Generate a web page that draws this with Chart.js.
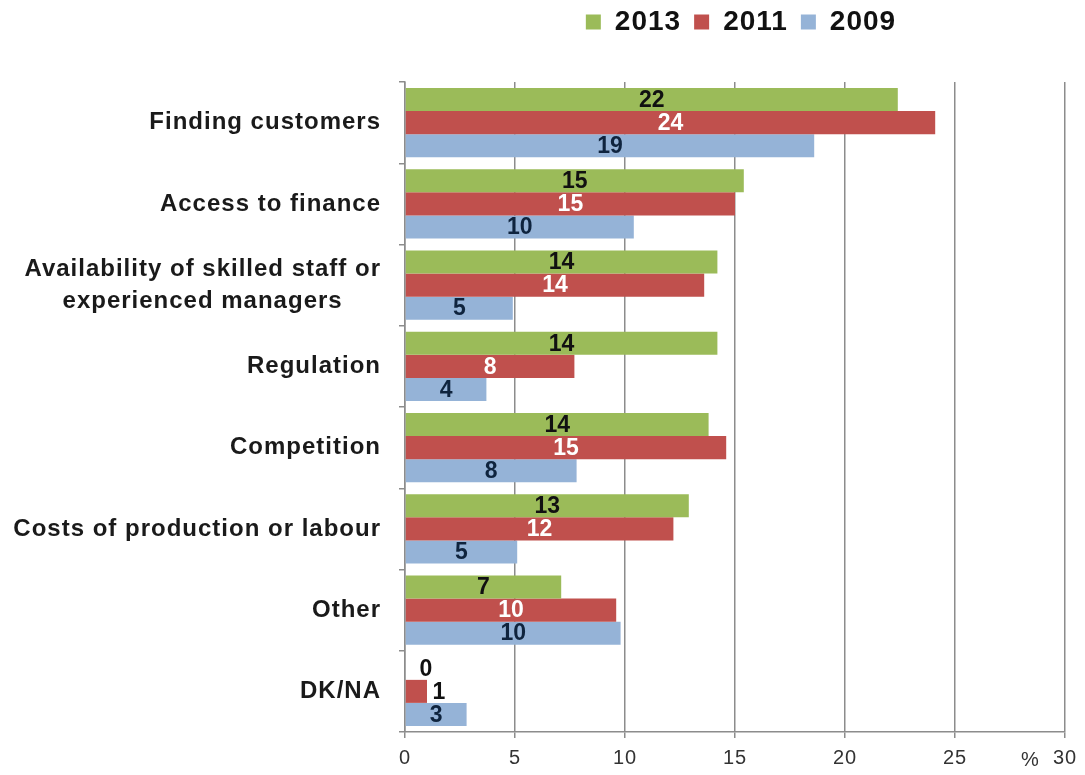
<!DOCTYPE html>
<html>
<head>
<meta charset="utf-8">
<title>Main problems facing businesses</title>
<script src="https://cdn.jsdelivr.net/npm/chart.js@4.4.1/dist/chart.umd.min.js"></script>
<style>
  html, body { margin: 0; padding: 0; background: #ffffff; }
  #wrap { width: 1085px; height: 775px; position: relative; }
</style>
</head>
<body>
<div id="wrap"><canvas id="problemsChart" width="1085" height="775"></canvas></div>
<script>
// DATA
const categories = [
  "Finding customers",
  "Access to finance",
  ["Availability of skilled staff or", "experienced managers     "],
  "Regulation",
  "Competition",
  "Costs of production or labour",
  "Other",
  "DK/NA"
];
const seriesNames = ["2013", "2011", "2009"];
const values2013 = [22.4, 15.4, 14.2, 14.2, 13.8, 12.9, 7.1, 0.0];
const values2011 = [24.1, 15.0, 13.6, 7.7, 14.6, 12.2, 9.6, 1.0];
const values2009 = [18.6, 10.4, 4.9, 3.7, 7.8, 5.1, 9.8, 2.8];
const xTicks = [0, 5, 10, 15, 20, 25, 30];

// Colours
const barColors = ["#9bbb59", "#c0504d", "#95b3d7"];
const labelColors = ["#111111", "#ffffff", "#0f243e"];
const FONT = "'Liberation Sans', Arial, sans-serif";

// height reserved above the plot for the legend row
const LEGEND_BAND = 87;

// ================================
// Legend band height
// ================================
const legendBand = {
  id: "legendBand",
  afterInit(chart) {
    const legend = chart.legend;
    const fit = legend.fit.bind(legend);
    legend.fit = function () {
      fit();
      this.height = LEGEND_BAND;
    };
  },
  // a little extra tracking for the axis and legend text
  beforeDraw(chart) { chart.ctx.letterSpacing = "1px"; },
  beforeDatasetsDraw(chart) { chart.ctx.letterSpacing = "0px"; }
};

// ================================
// Value labels inside the bars
// ================================
const valueLabels = {
  id: "valueLabels",
  afterDatasetsDraw(chart) {
    const ctx = chart.ctx;
    ctx.save();
    ctx.font = `bold 23px ${FONT}`;
    ctx.textAlign = "center";
    ctx.textBaseline = "middle";
    chart.data.datasets.forEach((ds, i) => {
      const meta = chart.getDatasetMeta(i);
      meta.data.forEach((bar, j) => {
        const width = Math.abs(bar.x - bar.base);
        let x = (bar.x + bar.base) / 2;
        let color = labelColors[i];
        if (width < 30) {
          // too short to hold the number: put it just past the bar end
          x = Math.max(bar.x + 12, bar.base + 21);
          color = "#111111";
        }
        ctx.fillStyle = color;
        ctx.fillText(String(Math.round(ds.data[j])), x, bar.y + 1);
      });
    });
    ctx.restore();
  }
};

// Unit sign next to the last x tick
const unitLabel = {
  id: "unitLabel",
  afterDraw(chart) {
    const ctx = chart.ctx;
    const xs = chart.scales.x;
    ctx.save();
    ctx.letterSpacing = "0px";
    ctx.font = `20px ${FONT}`;
    ctx.fillStyle = "#333333";
    ctx.textAlign = "center";
    ctx.textBaseline = "middle";
    ctx.fillText("%", xs.getPixelForValue(28.4), xs.top + 28);
    ctx.restore();
  }
};

// ================================
// Chart
// ================================
const allValues = [values2013, values2011, values2009];

new Chart(document.getElementById("problemsChart"), {
  type: "bar",
  data: {
    labels: categories,
    datasets: seriesNames.map((name, i) => ({
      label: name,
      data: allValues[i],
      backgroundColor: barColors[i],
      borderWidth: 0,
      categoryPercentage: 0.85,
      barPercentage: 1.0
    }))
  },
  options: {
    indexAxis: "y",
    responsive: false,
    animation: false,
    layout: { padding: { top: -5, right: 20, bottom: 0, left: 0 } },
    plugins: {
      tooltip: { enabled: false },
      legend: {
        position: "top",
        fullSize: false,
        align: "center",
        labels: {
          boxWidth: 15,
          boxHeight: 15,
          padding: 13,
          color: "#111111",
          font: { family: FONT, size: 28, weight: "bold" }
        }
      }
    },
    scales: {
      x: {
        min: 0,
        max: 30,
        afterBuildTicks(scale) {
          scale.ticks = xTicks.map(v => ({ value: v }));
        },
        afterFit(scale) { scale.height = 43; },
        grid: {
          color: "#8c8c8c",
          lineWidth: 1.5,
          tickLength: 6,
          drawOnChartArea: true
        },
        border: { color: "#8c8c8c", width: 1.5 },
        ticks: {
          color: "#333333",
          padding: 8,
          font: { family: FONT, size: 20 }
        }
      },
      y: {
        afterFit(scale) { scale.width = 405; },
        grid: {
          offset: true,
          drawOnChartArea: false,
          color: "#8c8c8c",
          lineWidth: 1.5,
          tickLength: 6
        },
        border: { color: "#8c8c8c", width: 1.5 },
        ticks: {
          color: "#1a1a1a",
          padding: 18,
          font: { family: FONT, size: 24, weight: "bold", lineHeight: 1.33 }
        }
      }
    }
  },
  plugins: [legendBand, valueLabels, unitLabel]
});
</script>
</body>
</html>
